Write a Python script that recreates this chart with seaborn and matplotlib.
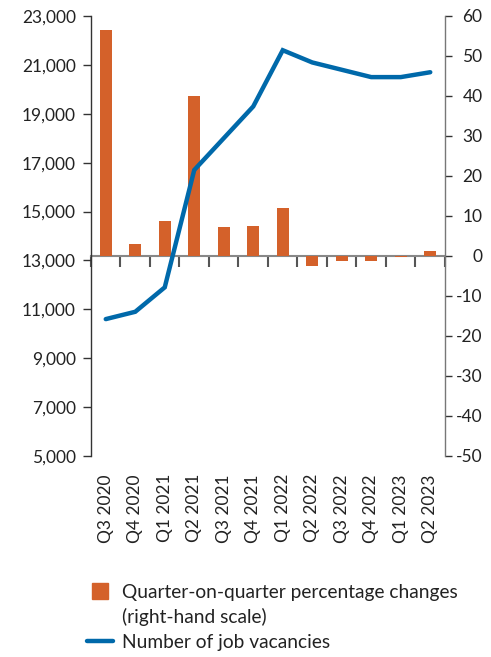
import numpy as np
import pandas as pd
import matplotlib
matplotlib.use("Agg")
import matplotlib.pyplot as plt
from matplotlib.lines import Line2D
from matplotlib.ticker import FuncFormatter
import seaborn as sns

# Quarterly job vacancies and their quarter-on-quarter change
quarters = ["Q3 2020", "Q4 2020", "Q1 2021", "Q2 2021", "Q3 2021", "Q4 2021",
            "Q1 2022", "Q2 2022", "Q3 2022", "Q4 2022", "Q1 2023", "Q2 2023"]
vacancies = [10600, 10900, 11900, 16700, 18000, 19300,
             21600, 21100, 20800, 20500, 20500, 20700]
qoq_change = [56.5, 3.0, 8.8, 40.0, 7.3, 7.6,
              11.9, -2.5, -1.2, -1.2, -0.3, 1.2]

left_ticks = list(range(5000, 23001, 2000))
right_ticks = list(range(-50, 61, 10))

ORANGE = "#D4612A"
BLUE = "#0069AA"
FONT = "Lato"
FS = 12.5

sns.set_theme(style="white")
plt.rcParams["font.family"] = [FONT, "DejaVu Sans"]
plt.rcParams["axes.unicode_minus"] = False

df = pd.DataFrame({"quarter": quarters, "pos": np.arange(len(quarters)),
                   "vacancies": vacancies, "change": qoq_change})

fig = plt.figure(figsize=(4.91, 6.57), dpi=100)
ax = fig.add_axes([91 / 491, 1 - 456 / 657, (445 - 91) / 491, (456 - 16) / 657])
ax2 = ax.twinx()

# Bars: percentage change on the right-hand scale
sns.barplot(data=df, x="pos", y="change", ax=ax2, color=ORANGE, width=0.4,
            saturation=1, native_scale=True, edgecolor="none")
# Line: number of vacancies on the left-hand scale
sns.lineplot(data=df, x="pos", y="vacancies", ax=ax, color=BLUE, linewidth=3.2,
             solid_joinstyle="miter")

ax.set_zorder(ax2.get_zorder() + 1)
ax.patch.set_visible(False)

n = len(quarters)
ax.set_xlim(-0.5, n - 0.5)
ax2.set_xlim(-0.5, n - 0.5)

ax.set_ylim(left_ticks[0], left_ticks[-1])
ax.set_yticks(left_ticks)
ax.yaxis.set_major_formatter(FuncFormatter(lambda v, p: f"{int(v):,}"))
ax2.set_ylim(right_ticks[0], right_ticks[-1])
ax2.set_yticks(right_ticks)

ax.set_xticks(np.arange(n))
ax.set_xticklabels(quarters, rotation=90, fontsize=FS, color="#222222")
ax.tick_params(axis="x", length=0, pad=13)
ax.set_xlabel("")
ax.set_ylabel("")
ax2.set_xlabel("")
ax2.set_ylabel("")

for a in (ax, ax2):
    for s in ("top", "bottom"):
        a.spines[s].set_visible(False)
ax.spines["right"].set_visible(False)
ax2.spines["left"].set_visible(False)
ax.spines["left"].set_color("#333333")
ax.spines["left"].set_linewidth(1.0)
ax2.spines["right"].set_color("#777777")
ax2.spines["right"].set_linewidth(1.0)

ax.tick_params(axis="y", which="major", direction="out", length=6, width=1.0,
               color="#333333", pad=5, labelsize=FS, labelcolor="#222222", left=True)
ax2.tick_params(axis="y", which="major", direction="out", length=5, width=1.0,
                color="#333333", pad=22, labelsize=FS, labelcolor="#222222", right=True)
for lab in ax2.get_yticklabels():
    lab.set_horizontalalignment("right")

# Zero line of the right-hand scale with category separators
zero_frac = (0 - right_ticks[0]) / (right_ticks[-1] - right_ticks[0])
sec = ax2.secondary_xaxis(zero_frac)
sec.set_xticks(np.arange(-0.5, n, 1.0))
sec.set_xticklabels([])
sec.tick_params(axis="x", direction="out", length=8, width=1.5, color="#555555")
for s in sec.spines.values():
    s.set_color("#888888")
    s.set_linewidth(1.5)

# Legend
handles = [
    Line2D([], [], marker="s", linestyle="none", color=ORANGE, markersize=11.5),
    Line2D([], [], linestyle="none", alpha=0),
    Line2D([], [], color=BLUE, linewidth=3.2),
]
labels = ["Quarter-on-quarter percentage changes", "(right-hand scale)",
          "Number of job vacancies"]
fig.legend(handles, labels, loc="upper left", bbox_to_anchor=(87 / 491, 1 - 584 / 657),
           frameon=False, fontsize=13.8, handlelength=1.35, handletextpad=0.5,
           labelspacing=0.38, borderpad=0, borderaxespad=0, labelcolor="#222222")

fig.savefig("out.png", dpi=100)
